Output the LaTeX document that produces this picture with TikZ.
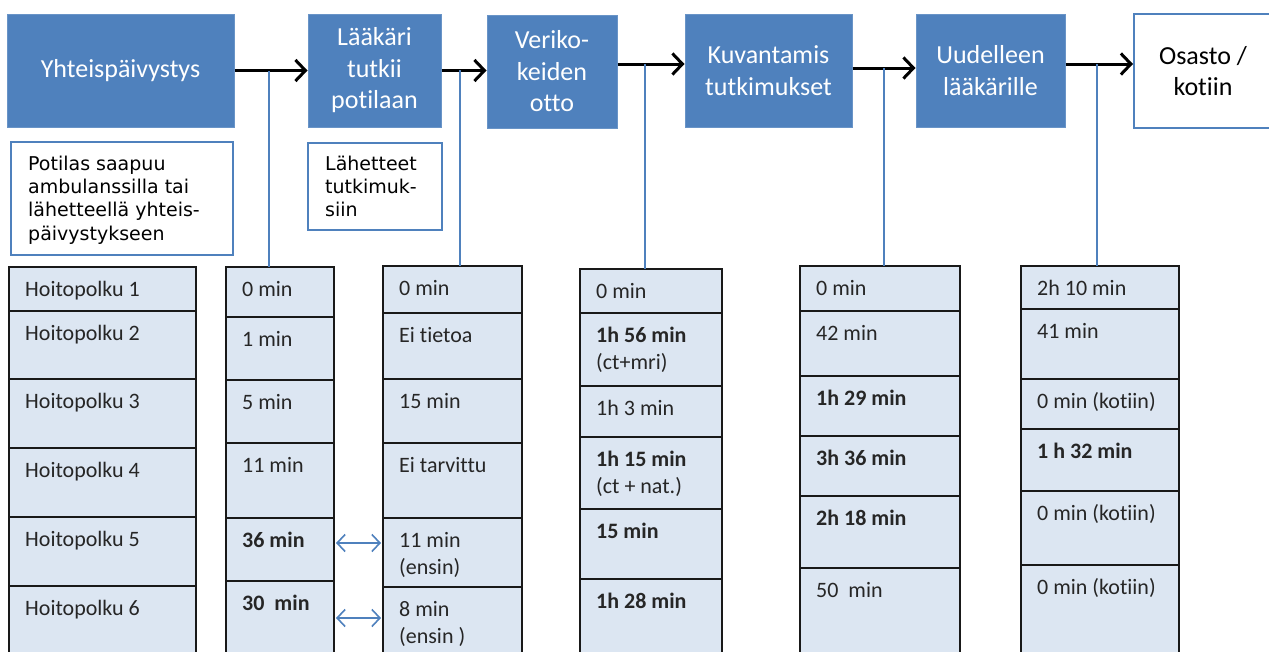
\documentclass[tikz,border=0pt]{standalone}
\usepackage{fontspec}
\setmainfont{Carlito}[Ligatures=NoCommon]
\newfontfamily\dvs{DejaVu Sans}
\usetikzlibrary{arrows.meta,fit}
\definecolor{boxblue}{HTML}{4F81BD}
\definecolor{cellfill}{HTML}{DCE6F2}
\definecolor{lineblue}{HTML}{4F81BD}
\tikzset{
  bluebox/.style={fill=boxblue, draw=boxblue!85!white, line width=1pt, inner sep=0pt},
  whitebox/.style={fill=white, draw=boxblue, line width=2pt, inner sep=0pt},
  boxtext/.style={align=center, inner sep=0pt, font=\fontsize{26}{31.5}\selectfont},
  infobox/.style={fill=white, draw=boxblue, line width=1.8pt, inner sep=0pt},
  infotext/.style={anchor=north west, inner sep=0pt, align=left, font=\dvs\fontsize{19}{23.4}\selectfont},
  cellbox/.style={fill=cellfill, draw=black!90, line width=2pt, inner sep=0pt, outer sep=0pt},
  celltext/.style={anchor=north west, inner sep=0pt, align=left, font=\fontsize{22}{27.5}\selectfont, text=black!85},
  arr/.style={draw=black, line width=3pt, -{Straight Barb[length=10pt,width=21pt]}},
  darr/.style={draw=lineblue, line width=1.6pt, shorten <=2pt, shorten >=2pt,
    {Straight Barb[length=8pt,width=17pt]}-{Straight Barb[length=8pt,width=17pt]}},
  conn/.style={draw=lineblue, line width=1.5pt}
}
\newcommand\cellrow[6]{%
  \node[cellbox, fit={(#2,#3) (#4,#5)}] (#1) {};
  \node[celltext] (#1t) at ([xshift=16pt,yshift=-12pt]#1.north west) {\rule{0pt}{17pt}#6};
}
\begin{document}
\begin{tikzpicture}[x=1pt,y=-1pt]
\useasboundingbox (0,0) rectangle (1269,651);
\fill[white] (0,0) rectangle (1269,651);

% top process boxes
\node[bluebox, fit={(7,14) (234,127)}] (n1) {};
\node[bluebox, fit={(308,14) (441,127)}] (n2) {};
\node[bluebox, fit={(487,15) (617,128)}] (n3) {};
\node[bluebox, fit={(685,14) (852,127)}] (n4) {};
\node[bluebox, fit={(916,14) (1065,127)}] (n5) {};
\node[whitebox, fit={(1134,14) (1272,128)}] (n6) {};
\node[boxtext, text=white] (n1t) at (n1.center) {Yhteispäivystys};
\node[boxtext, text=white] (n2t) at (n2.center) {Lääkäri\\tutkii\\potilaan};
\node[boxtext, text=white] (n3t) at (n3.center) {Veriko-\\keiden\\otto};
\node[boxtext, text=white] (n4t) at (n4.center) {Kuvantamis\\tutkimukset};
\node[boxtext, text=white] (n5t) at (n5.center) {Uudelleen\\lääkärille};
\node[boxtext, text=black] (n6t) at (n6.center) {Osasto /\\kotiin};

% arrows
\coordinate (h3) at (0,64);
\coordinate (h4) at (0,68);
\coordinate (h5) at (0,64);
\draw[arr] (n1.east) -- (n2.west);
\draw[arr] (n2.east) -- (n2.east -| n3.west);
\draw[arr] (n3.east |- h3) -- (n4.west |- h3);
\draw[arr] (n4.east |- h4) -- (n5.west |- h4);
\draw[arr] (n5.east |- h5) -- (n6.west |- h5);

% info boxes
\node[infobox, fit={(11,142) (233,255)}] (p1) {};
\node[infotext] (p1t) at (28,155.5) {Potilas saapuu\\ambulanssilla tai\\lähetteellä yhteis-\\päivystykseen};
\node[infobox, fit={(308,143) (442,230)}] (p2) {};
\node[infotext] (p2t) at (325,155.5) {Lähetteet\\tutkimuk-\\siin};

% column 1
\cellrow{a1}{9}{267}{196}{311}{Hoitopolku 1}
\cellrow{a2}{9}{311}{196}{379}{Hoitopolku 2}
\cellrow{a3}{9}{379}{196}{448}{Hoitopolku 3}
\cellrow{a4}{9}{448}{196}{517}{Hoitopolku 4}
\cellrow{a5}{9}{517}{196}{586}{Hoitopolku 5}
\cellrow{a6}{9}{586}{196}{662}{Hoitopolku 6}
% column 2
\cellrow{b1}{226}{267}{334}{317}{0 min}
\cellrow{b2}{226}{317}{334}{380}{1 min}
\cellrow{b3}{226}{380}{334}{443}{5 min}
\cellrow{b4}{226}{443}{334}{518}{11 min}
\cellrow{b5}{226}{518}{334}{581}{\textbf{36 min}}
\cellrow{b6}{226}{581}{334}{662}{\textbf{30\ \ min}}
% column 3
\cellrow{c1}{383}{266}{522}{313}{0 min}
\cellrow{c2}{383}{313}{522}{379}{Ei tietoa}
\cellrow{c3}{383}{379}{522}{443}{15 min}
\cellrow{c4}{383}{443}{522}{518}{Ei tarvittu}
\cellrow{c5}{383}{518}{522}{587}{11 min\\(ensin)}
\cellrow{c6}{383}{587}{522}{662}{8 min\\(ensin )}
% column 4
\cellrow{d1}{580}{269}{722}{313}{0 min}
\cellrow{d2}{580}{313}{722}{386}{\textbf{1h 56 min}\\(ct+mri)}
\cellrow{d3}{580}{386}{722}{437}{1h 3 min}
\cellrow{d4}{580}{437}{722}{509}{\textbf{1h 15 min}\\(ct + nat.)}
\cellrow{d5}{580}{509}{722}{579}{\textbf{15 min}}
\cellrow{d6}{580}{579}{722}{662}{\textbf{1h 28 min}}
% column 5
\cellrow{e1}{800}{266}{960}{311}{0 min}
\cellrow{e2}{800}{311}{960}{376}{42 min}
\cellrow{e3}{800}{376}{960}{436}{\textbf{1h 29 min}}
\cellrow{e4}{800}{436}{960}{496}{\textbf{3h 36 min}}
\cellrow{e5}{800}{496}{960}{568}{\textbf{2h 18 min}}
\cellrow{e6}{800}{568}{960}{662}{50\ \ min}
% column 6
\cellrow{f1}{1021}{266}{1179}{309}{2h 10 min}
\cellrow{f2}{1021}{309}{1179}{379}{41 min}
\cellrow{f3}{1021}{379}{1179}{429}{0 min (kotiin)}
\cellrow{f4}{1021}{429}{1179}{491}{\textbf{1 h 32 min}}
\cellrow{f5}{1021}{491}{1179}{565}{0 min (kotiin)}
\cellrow{f6}{1021}{565}{1179}{662}{0 min (kotiin)}

% vertical connectors
\coordinate (v1) at (269,71);
\coordinate (v2) at (460,70);
\coordinate (v3) at (645,64);
\coordinate (v4) at (884,68);
\coordinate (v5) at (1097,64);
\draw[conn] (v1) -- (v1 |- b1.north);
\draw[conn] (v2) -- (v2 |- c1.north);
\draw[conn] (v3) -- (v3 |- d1.north);
\draw[conn] (v4) -- (v4 |- e1.north);
\draw[conn] (v5) -- (v5 |- f1.north);

% double arrows
\coordinate (q5) at (0,543);
\coordinate (q6) at (0,618);
\draw[darr] (b5.east |- q5) -- (c5.west |- q5);
\draw[darr] (b6.east |- q6) -- (c6.west |- q6);
\end{tikzpicture}
\end{document}
